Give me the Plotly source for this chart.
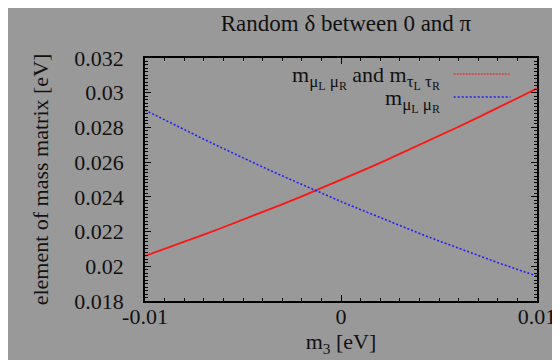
import plotly.graph_objects as go

# ---- data ----
m3 = [-0.010, -0.009, -0.008, -0.007, -0.006, -0.005, -0.004, -0.003, -0.002, -0.001,
      0.000, 0.001, 0.002, 0.003, 0.004, 0.005, 0.006, 0.007, 0.008, 0.009, 0.010]
m_mumu_tautau = [0.02060, 0.02100, 0.02141, 0.02182, 0.02225, 0.02268, 0.02312, 0.02357,
                 0.02403, 0.02450, 0.02498, 0.02547, 0.02596, 0.02647, 0.02698, 0.02750,
                 0.02804, 0.02858, 0.02912, 0.02968, 0.03025]
m_mumu = [0.02900, 0.02843, 0.02787, 0.02732, 0.02678, 0.02624, 0.02572, 0.02521,
          0.02471, 0.02421, 0.02373, 0.02326, 0.02279, 0.02234, 0.02189, 0.02146,
          0.02103, 0.02062, 0.02021, 0.01982, 0.01943]

x_ticks = [-0.01, 0, 0.01]
x_ticklabels = ["-0.01", "0", "0.01"]
y_ticks = [0.018, 0.020, 0.022, 0.024, 0.026, 0.028, 0.030, 0.032]
y_ticklabels = ["0.018", "0.02", "0.022", "0.024", "0.026", "0.028", "0.03", "0.032"]

title_text = "Random δ between 0 and π"
xlabel = "m<sub>3</sub> [eV]"
ylabel = "element of mass matrix [eV]"
SUBS = '<span style="font-size:17px">'
legend1 = "m<sub>" + SUBS + "μ<sub>L</sub> μ<sub>R</sub></span></sub> and m<sub>" + SUBS + "τ<sub>L</sub> τ<sub>R</sub></span></sub>"
legend2 = "m<sub>" + SUBS + "μ<sub>L</sub> μ<sub>R</sub></span></sub>"

BG = "#999999"
FONT = "Liberation Serif"
FS = 22
TXT = "#111111"
W, H = 560, 360
L, R, T, B = 137, 23, 50, 67

fig = go.Figure()
fig.add_trace(go.Scatter(x=m3, y=m_mumu_tautau, mode="lines",
                         line=dict(color="rgb(255,20,20)", width=1.8),
                         showlegend=False))
fig.add_trace(go.Scatter(x=m3, y=m_mumu, mode="lines",
                         line=dict(color="rgb(30,30,255)", width=1.6, dash="2px,2px"),
                         showlegend=False))

axis_common = dict(showline=True, linecolor="black", linewidth=1.5, mirror="allticks",
                   ticks="inside", tickcolor="black", ticklen=6, tickwidth=1,
                   showgrid=False, zeroline=False,
                   tickfont=dict(family=FONT, size=FS, color=TXT))

fig.update_xaxes(range=[-0.01, 0.01], tickvals=x_ticks, ticktext=x_ticklabels,
                 minor=dict(dtick=0.001, tick0=0, ticks="inside", ticklen=3,
                            tickcolor="black", showgrid=False),
                 title=dict(text=xlabel, font=dict(family=FONT, size=FS, color=TXT),
                            standoff=4),
                 ticklabelstandoff=-5,
                 **axis_common)
fig.update_yaxes(range=[0.018, 0.032], tickvals=y_ticks, ticktext=y_ticklabels,
                 minor=dict(dtick=0.0002, tick0=0.018, ticks="inside", ticklen=3,
                            tickcolor="black", showgrid=False),
                 title=dict(text=ylabel, font=dict(family=FONT, size=FS, color=TXT),
                            standoff=20),
                 ticklabelstandoff=15,
                 **axis_common)

pw = W - L - R
ph = H - T - B
def px(xp):
    return (xp - L) / pw
def py(yp):
    return 1 - (yp - T) / ph

fig.add_annotation(text=legend1, xref="paper", yref="paper", x=px(440), y=py(69),
                   xanchor="right", yanchor="middle", showarrow=False,
                   font=dict(family=FONT, size=FS, color=TXT))
fig.add_annotation(text=legend2, xref="paper", yref="paper", x=px(440), y=py(92),
                   xanchor="right", yanchor="middle", showarrow=False,
                   font=dict(family=FONT, size=FS, color=TXT))
fig.add_shape(type="line", xref="paper", yref="paper", x0=px(452), x1=px(510),
              y0=py(66), y1=py(66), line=dict(color="rgb(255,20,20)", width=1.2, dash="2px,1px"))
fig.add_shape(type="line", xref="paper", yref="paper", x0=px(452), x1=px(510),
              y0=py(89), y1=py(89), line=dict(color="rgb(30,30,255)", width=1.6, dash="2px,2px"))

fig.update_layout(
    width=W, height=H,
    margin=dict(l=L, r=R, t=T, b=B),
    paper_bgcolor=BG, plot_bgcolor=BG,
    title=dict(text=title_text, x=338 / W, xanchor="center", y=1 - 15 / H, yanchor="middle",
               font=dict(family=FONT, size=23, color=TXT)),
    font=dict(family=FONT, size=FS, color=TXT),
)

fig.write_html("out.html")
